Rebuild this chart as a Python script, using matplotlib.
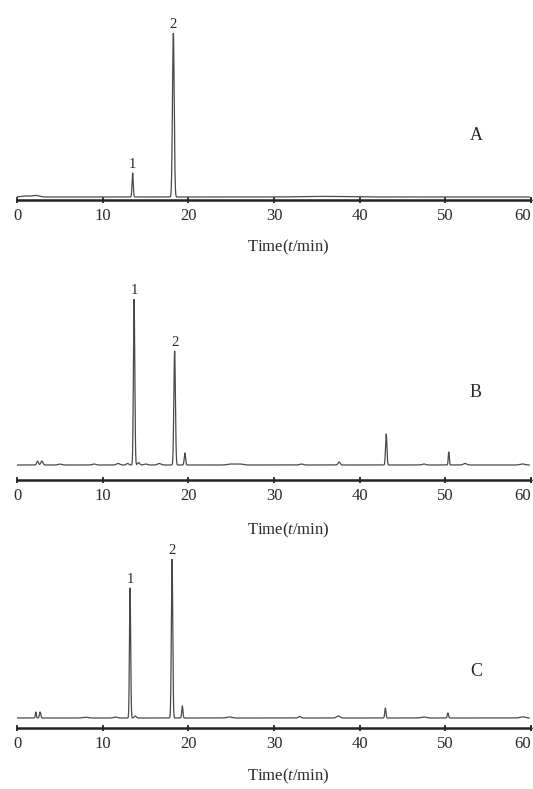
import numpy as np
import matplotlib
matplotlib.use("Agg")
import matplotlib.pyplot as plt

plt.rcParams['font.family'] = ['Liberation Serif', 'DejaVu Serif']
plt.rcParams['mathtext.fontset'] = 'custom'
plt.rcParams['mathtext.rm'] = 'Liberation Serif'
plt.rcParams['mathtext.it'] = 'Liberation Serif:italic'

# Peak tables (retention time in min, height in arbitrary units, width sigma in min)
A_times = [1.0, 2.2, 13.5, 18.25, 36.0]
A_heights = [1.0, 1.5, 24, 164, 0.6]
A_widths = [0.5, 0.4, 0.07, 0.1, 2.5]

B_times = [2.4, 2.9, 5.0, 9.0, 11.8, 12.9, 13.67, 14.2, 15.0, 16.6, 18.4, 19.6, 25.0, 26.0, 33.2, 37.6, 43.1, 47.5, 50.4, 52.3, 59.0]
B_heights = [4, 4, 1, 1, 1.5, 1.5, 166, 2.5, 1, 1.5, 114, 12, 1, 1, 1, 3, 31, 1, 13, 1.5, 1]
B_widths = [0.1, 0.12, 0.2, 0.2, 0.2, 0.15, 0.08, 0.12, 0.2, 0.2, 0.09, 0.08, 0.4, 0.4, 0.2, 0.12, 0.08, 0.2, 0.06, 0.2, 0.3]

C_times = [2.2, 2.7, 8.0, 11.5, 13.2, 13.8, 18.1, 19.3, 24.8, 33.0, 37.5, 43.0, 47.5, 50.3, 59.0]
C_heights = [6, 6, 0.8, 1, 130, 2, 159, 12, 1, 1.5, 2, 10, 1, 5, 1.2]
C_widths = [0.06, 0.08, 0.3, 0.2, 0.07, 0.12, 0.08, 0.07, 0.3, 0.15, 0.2, 0.07, 0.3, 0.07, 0.3]

tick_values = [0, 10, 20, 30, 40, 50, 60]
xlabel_text = 'Time($\\mathit{t}$/min)'

panels = [
    dict(times=A_times, heights=A_heights, widths=A_widths, label='A',
         peak_ids={13.5: '1', 18.25: '2'}, axis_y=200, base_y=197, top_y=33,
         label_xy=(476, 136), xlabel_y=247),
    dict(times=B_times, heights=B_heights, widths=B_widths, label='B',
         peak_ids={13.67: '1', 18.4: '2'}, axis_y=480, base_y=465, top_y=299,
         label_xy=(476, 393), xlabel_y=530),
    dict(times=C_times, heights=C_heights, widths=C_widths, label='C',
         peak_ids={13.2: '1', 18.1: '2'}, axis_y=728, base_y=718, top_y=559,
         label_xy=(476, 672), xlabel_y=776),
]

W, H = 533, 789
fig = plt.figure(figsize=(W / 100, H / 100), dpi=100)
x0, x1 = 17, 531
t = np.linspace(0, 59.8, 6000)
ink = '#4a4a4a'
txt = '#2a2a2a'

for p in panels:
    hpx = p['axis_y'] - p['top_y']
    ax = fig.add_axes([x0 / W, 1 - p['axis_y'] / H, (x1 - x0) / W, hpx / H])
    y = np.zeros_like(t)
    for tm, h, w in zip(p['times'], p['heights'], p['widths']):
        y += h * np.exp(-0.5 * ((t - tm) / w) ** 2)
    ax.plot(t, y, color=ink, lw=0.9)
    ymax = max(p['heights'])
    ax.set_xlim(0, 60)
    ax.set_ylim(-(p['axis_y'] - p['base_y']), ymax)
    for s in ['left', 'right', 'top']:
        ax.spines[s].set_visible(False)
    ax.spines['bottom'].set_linewidth(1.8)
    ax.spines['bottom'].set_color('#222222')
    ax.spines['bottom'].set_capstyle('round')
    ax.set_yticks([])
    ax.set_xticks(tick_values)
    ax.tick_params(axis='x', direction='inout', length=4, width=1.3, colors='#222222',
                   labelsize=12, labelcolor=txt, pad=4)
    ax.get_xticklabels()[-1].set_ha('right')
    ax.set_xlabel(xlabel_text, fontsize=12, color=txt)
    ax.xaxis.label.set_va('center')
    ax.xaxis.set_label_coords((288 - x0) / (x1 - x0), -(p['xlabel_y'] - p['axis_y']) / hpx)
    ax.patch.set_alpha(0)
    for tm, lab in p['peak_ids'].items():
        h = p['heights'][p['times'].index(tm)]
        ax.annotate(lab, (tm, h), xytext=(0, 1.5), textcoords='offset points',
                    ha='center', va='bottom', fontsize=10.5, color=txt)
    fig.text(p['label_xy'][0] / W, 1 - p['label_xy'][1] / H, p['label'],
             fontsize=13, color=txt, ha='center', va='center')

fig.savefig('out.png', dpi=100, facecolor='white')
